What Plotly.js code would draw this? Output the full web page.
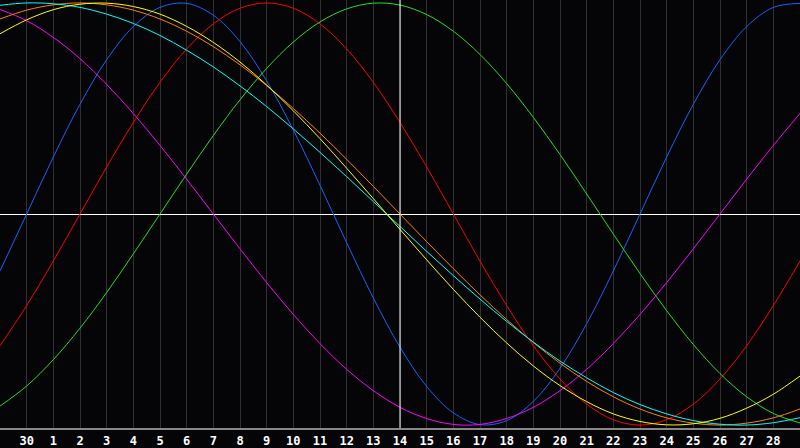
<!DOCTYPE html>
<html><head><meta charset="utf-8">
<script src="https://cdn.plot.ly/plotly-3.0.1.min.js"></script>
<style>html,body{margin:0;padding:0;background:#050508;overflow:hidden}</style>
</head><body><div id="chart" style="width:800px;height:448px"></div>
<script>
// day positions (0 = day 29 of previous month, 30 = day 29 of current month)
const dayIndex = [0,1,2,3,4,5,6,7,8,9,10,11,12,13,14,15,16,17,18,19,20,21,22,23,24,25,26,27,28,29,30];
const tickPositions = [1,2,3,4,5,6,7,8,9,10,11,12,13,14,15,16,17,18,19,20,21,22,23,24,25,26,27,28,29];
const tickLabels = ['30','1','2','3','4','5','6','7','8','9','10','11','12','13','14','15','16','17','18','19','20','21','22','23','24','25','26','27','28'];
const todayIndex = 15;

const blue = [-0.270,0,0.270,0.520,0.731,0.888,0.979,0.998,0.942,0.817,0.631,0.398,0.136,-0.136,-0.398,-0.631,-0.817,-0.942,-0.998,-0.979,-0.888,-0.731,-0.520,-0.270,0,0.270,0.520,0.731,0.888,0.979,0.998];
const red = [-0.624,-0.434,-0.223,0,0.223,0.434,0.624,0.782,0.901,0.975,1,0.975,0.901,0.782,0.624,0.434,0.223,0,-0.223,-0.434,-0.624,-0.782,-0.901,-0.975,-1,-0.975,-0.901,-0.782,-0.624,-0.434,-0.223];
const green = [-0.910,-0.815,-0.690,-0.541,-0.372,-0.189,0,0.189,0.372,0.541,0.690,0.815,0.910,0.972,0.999,0.990,0.945,0.866,0.756,0.618,0.458,0.282,0.095,-0.095,-0.282,-0.458,-0.618,-0.756,-0.866,-0.945,-0.990];
const magenta = [0.969,0.916,0.837,0.736,0.614,0.476,0.325,0.165,0,-0.165,-0.325,-0.476,-0.614,-0.736,-0.837,-0.916,-0.969,-0.997,-0.997,-0.969,-0.916,-0.837,-0.736,-0.614,-0.476,-0.325,-0.165,0,0.165,0.325,0.476];
const yellow = [0.854,0.920,0.968,0.994,0.999,0.983,0.947,0.889,0.813,0.720,0.611,0.489,0.357,0.217,0.073,-0.073,-0.217,-0.357,-0.489,-0.611,-0.720,-0.813,-0.889,-0.947,-0.983,-0.999,-0.994,-0.968,-0.920,-0.854,-0.768];
const orange = [0.924,0.966,0.991,1,0.991,0.966,0.924,0.866,0.793,0.707,0.609,0.5,0.383,0.259,0.131,0,-0.131,-0.259,-0.383,-0.5,-0.609,-0.707,-0.793,-0.866,-0.924,-0.966,-0.991,-1,-0.991,-0.966,-0.924];
const cyan = [0.989,1.000,0.996,0.979,0.947,0.903,0.846,0.776,0.697,0.607,0.509,0.403,0.292,0.177,0.059,-0.059,-0.177,-0.292,-0.403,-0.509,-0.607,-0.697,-0.776,-0.846,-0.903,-0.947,-0.979,-0.996,-1.000,-0.989,-0.965];

const series = [
  {y: blue, color: '#1464ff'},
  {y: red, color: '#ff0000'},
  {y: green, color: '#22e022'},
  {y: magenta, color: '#ff00ff'},
  {y: orange, color: '#ff8000'},
  {y: cyan, color: '#00ffff'},
  {y: yellow, color: '#ffff00'}
];

const traces = series.map(s => ({
  x: dayIndex, y: s.y, type: 'scatter', mode: 'lines',
  line: {color: s.color, width: 1, shape: 'spline', smoothing: 1},
  hoverinfo: 'skip', showlegend: false
}));

const layout = {
  width: 800, height: 448,
  margin: {l: 0, r: 0, t: 0, b: 20, pad: 0},
  paper_bgcolor: '#050508', plot_bgcolor: '#050508',
  showlegend: false,
  xaxis: {
    range: [0, 30], fixedrange: true,
    tickmode: 'array', tickvals: tickPositions, ticktext: tickLabels,
    showgrid: true, gridcolor: '#303030', gridwidth: 1,
    zeroline: false, ticks: '', showline: true, linecolor: '#888888', linewidth: 2, mirror: true,
    tickfont: {family: 'DejaVu Sans Mono', size: 12, color: '#ffffff', weight: 'bold'},
    ticklabelstandoff: 1
  },
  yaxis: {
    range: [-1.014, 1.014], fixedrange: true,
    showgrid: false, showticklabels: false, ticks: '',
    zeroline: true, zerolinecolor: '#ffffff', zerolinewidth: 1,
    showline: true, linecolor: '#888888', linewidth: 2, mirror: true
  },
  shapes: [{type: 'line', xref: 'x', yref: 'paper', x0: todayIndex, x1: todayIndex, y0: 0, y1: 1,
            line: {color: '#ffffff', width: 1}, layer: 'above'}]
};

Plotly.newPlot('chart', traces, layout, {staticPlot: true, displayModeBar: false});
</script>
</body></html>
